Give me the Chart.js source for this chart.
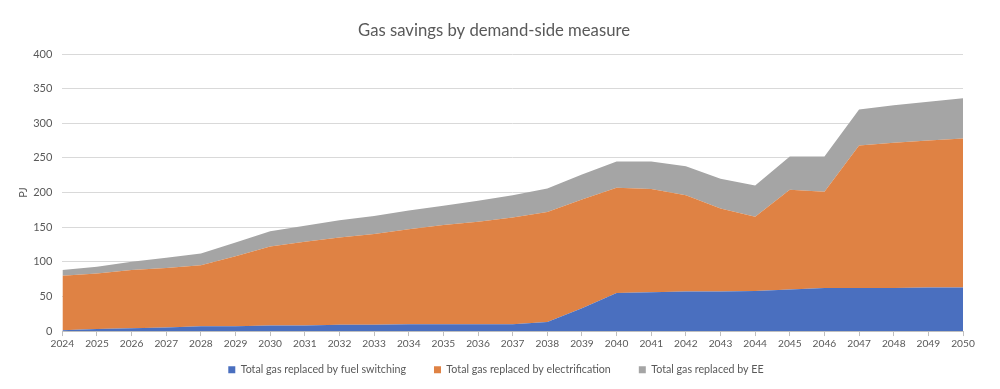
<!DOCTYPE html>
<html><head><meta charset="utf-8">
<script src="https://cdn.jsdelivr.net/npm/chart.js@4/dist/chart.umd.min.js"></script>
<style>html,body{margin:0;padding:0;background:#fff}#w{width:1000px;height:389px}</style>
</head><body><div id="w"><canvas id="c"></canvas></div>
<script>
const years = ["2024","2025","2026","2027","2028","2029","2030","2031","2032","2033","2034","2035","2036","2037","2038","2039","2040","2041","2042","2043","2044","2045","2046","2047","2048","2049","2050"];
const fuelSwitching = [1,3,4,5,7,7,8,8,9,9,10,10,10,10,13,33,55,56,57,57,58,60,62,62,62,63,63];
const electrification = [79,80,84,86,88,101,114,121,126,131,137,143,148,154,159,157,152,149,139,120,107,144,139,206,210,212,215];
const energyEfficiency = [8,10,12,15,17,20,22,23,25,26,27,28,30,32,34,36,38,40,42,43,45,48,51,52,54,56,58];
const yTicks = [0,50,100,150,200,250,300,350,400];
const seriesNames = ["Total gas replaced by fuel switching","Total gas replaced by electrification","Total gas replaced by EE"];
const colors = ["#4a6fbf","#df8244","#a5a5a5"];
const font = "Lato, 'Open Sans', sans-serif";
const LEGEND_SHIFT = 16;
const legendTweak = {
  id: 'legendTweak',
  beforeLayout(chart) {
    const l = chart.legend;
    if (l && !l._tweaked) {
      const f = l.fit;
      l.fit = function() { f.call(this); this.height -= LEGEND_SHIFT; };
      l._tweaked = true;
    }
  },
  afterLayout(chart) {
    const l = chart.legend;
    if (l) { l.top -= LEGEND_SHIFT; l.height += LEGEND_SHIFT; l.left += 6; l.right += 6; }
    const t = chart.titleBlock;
    if (t) { t.left += 4; t.right += 4; }
  }
};
const data = {
  labels: years,
  datasets: [fuelSwitching, electrification, energyEfficiency].map((d,i)=>({
    label: seriesNames[i], data: d, backgroundColor: colors[i], borderColor: colors[i],
    borderWidth: 0, fill: i===0 ? 'origin' : '-1', pointRadius: 0, tension: 0
  }))
};
new Chart(document.getElementById('c'), {
  type: 'line', data, plugins: [legendTweak],
  options: {
    responsive: true, maintainAspectRatio: false, animation: false,
    layout: {padding: {left: 17, right: 37, top: 9, bottom: 4}},
    plugins: {
      title: {display: true, text: 'Gas savings by demand-side measure', color: '#595959',
        font: {family: font, size: 16.7, weight: 'normal'}, padding: {top: 12, bottom: 13}},
      legend: {position: 'bottom', labels: {boxWidth: 7, boxHeight: 7, color: '#595959',
        font: {family: font, size: 10.7}, padding: 28}},
      tooltip: {enabled: false}
    },
    scales: {
      x: {offset: false, grid: {display: true, drawOnChartArea: false, color: '#bfbfbf', tickLength: 5},
        border: {color: '#bfbfbf'},
        ticks: {color: '#595959', font: {family: font, size: 10.2}, maxRotation: 0, autoSkip: false, padding: 2}},
      y: {stacked: true, min: 0, max: 400,
        afterBuildTicks: s => { s.ticks = yTicks.map(v=>({value:v})); },
        grid: {color: '#d9d9d9', drawTicks: false}, border: {display: false},
        ticks: {color: '#595959', font: {family: font, size: 11}, padding: 10},
        title: {display: true, text: 'PJ', color: '#595959', font: {family: font, size: 11}, padding: {top: 0, bottom: -7}}}
    }
  }
});
</script></body></html>
